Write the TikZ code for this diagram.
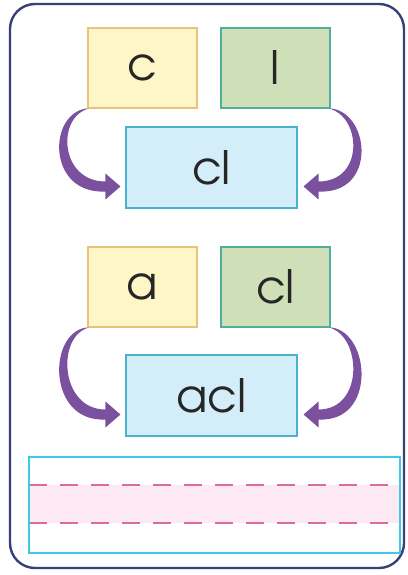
\documentclass[tikz,border=0pt]{standalone}
\usepackage{fontspec}
\setmainfont{texgyreadventor-regular.otf}
\usetikzlibrary{arrows.meta,calc}
\definecolor{framenavy}{HTML}{3A3F78}
\definecolor{yelfill}{HTML}{FFF6C8}
\definecolor{yeldraw}{HTML}{E8C27E}
\definecolor{grnfill}{HTML}{CFE0B9}
\definecolor{grndraw}{HTML}{4FB09A}
\definecolor{blufill}{HTML}{D3EDF9}
\definecolor{bludraw}{HTML}{49B3CF}
\definecolor{arrpurple}{HTML}{7B509E}
\definecolor{linecyan}{HTML}{3DCBE3}
\definecolor{guidepink}{HTML}{D96B9F}
\definecolor{bandpink}{HTML}{FCE9F1}

% curved tapered arrow: #1 start, #2 tip, #3 side (1 left, -1 right)
\newcommand\joinarrow[3]{%
\fill[arrpurple] ($(#1)+({#3*-1.5},0)$)
  .. controls ($(#1)+({#3*-40},6)$) and ($(#2)+({#3*-73},8)$) .. ($(#2)+({#3*-15},5)$)
  -- ($(#2)+({#3*-15},13)$) -- (#2) -- ($(#2)+({#3*-15},-13)$)
  -- ($(#2)+({#3*-15},-5)$)
  .. controls ($(#2)+({#3*-61},-5)$) and ($(#1)+({#3*-31},8)$) .. ($(#1)+({#3*1.5},0)$)
  -- cycle;}

\begin{document}
\begin{tikzpicture}[x=1pt,y=-1pt]
\tikzset{
card/.style={draw,line width=1.1pt,inner sep=0pt,font=\fontsize{46}{46}\selectfont,text=black!85},
part/.style={card,minimum width=109pt,minimum height=80pt},
word/.style={card,minimum width=171pt,minimum height=81pt}
}
\useasboundingbox (0,0) rectangle (407,575);
\draw[framenavy,line width=2.4pt,rounded corners=25pt] (10,4) rectangle (404,568);

% first row
\node[part,fill=yelfill,draw=yeldraw] (c) at (142.5,68) {c};
\node[part,fill=grnfill,draw=grndraw] (l) at (275.5,68) {l};
\node[word,fill=blufill,draw=bludraw] (cl) at (211.5,167.5) {cl};
\coordinate (cltipw) at ($(cl.west)+(-5,19)$);
\coordinate (cltipe) at ($(cl.east)+(6,19)$);
\joinarrow{c.south west}{cltipw}{1}
\joinarrow{l.south east}{cltipe}{-1}

% second row
\node[part,fill=yelfill,draw=yeldraw] (a) at (142.5,287) {a};
\node[part,fill=grnfill,draw=grndraw] (cl2) at (275.5,287) {cl};
\node[word,fill=blufill,draw=bludraw] (acl) at (211.5,395.5) {acl};
\coordinate (acltipw) at ($(acl.west)+(-5,19)$);
\coordinate (acltipe) at ($(acl.east)+(6,19)$);
\joinarrow{a.south west}{acltipw}{1}
\joinarrow{cl2.south east}{acltipe}{-1}

% writing lines
\fill[bandpink] (29,485) rectangle (400,523);
\draw[guidepink,line width=1.6pt,dash pattern=on 18pt off 13pt] (29,485) -- (400,485);
\draw[guidepink,line width=1.6pt,dash pattern=on 18pt off 13pt] (29,523) -- (400,523);
\draw[linecyan,line width=1.8pt] (29,457) rectangle (400,553);
\end{tikzpicture}
\end{document}
